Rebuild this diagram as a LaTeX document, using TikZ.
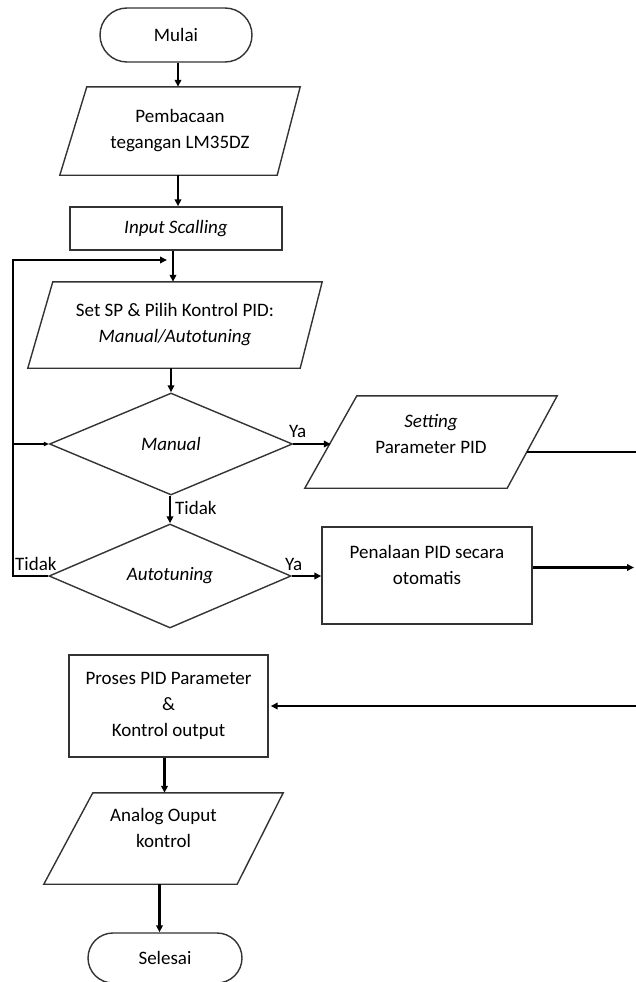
\documentclass[tikz,border=0pt]{standalone}
\usepackage{fontspec}
\setmainfont{Carlito}
\usetikzlibrary{shapes.geometric,shapes.misc,arrows.meta,calc}
\begin{document}
\begin{tikzpicture}[x=1pt,y=-1pt,
  every node/.style={font=\fontsize{19}{26}\selectfont, inner sep=0pt},
  term/.style={rounded rectangle, draw=black!80, line width=1.4pt},
  proc/.style={rectangle, draw=black!80, line width=1.4pt, align=center},
  pbox/.style={rectangle, align=center},
  pgram/.style={draw=black!80, line width=1.4pt},
  dec/.style={diamond, draw=black!80, line width=1.4pt, inner sep=0pt},
  conn/.style={line width=2.2pt, -{Triangle[length=7pt,width=6.5pt]}},
  line/.style={line width=2.2pt},
  lbl/.style={font=\fontsize{19}{22}\selectfont}
]
\useasboundingbox (0,0) rectangle (635,982);

% Mulai
\node[term, minimum width=152pt, minimum height=54pt] (mulai) at (176,35) {Mulai};

% Pembacaan (parallelogram)
\node[pbox, minimum width=240pt, minimum height=88pt] (pb) at (180,131) {Pembacaan\\tegangan LM35DZ};
\draw[pgram] ([xshift=27pt]pb.north west) -- (pb.north east) -- ([xshift=-23pt]pb.south east) -- (pb.south west) -- cycle;

% Input Scalling
\node[proc, minimum width=212pt, minimum height=43pt] (inp) at (176,228.5) {\itshape Input Scalling};

% Set SP
\node[pbox, minimum width=294pt, minimum height=86pt] (setsp) at (175,325) {Set SP \& Pilih Kontrol PID:\\\itshape Manual/Autotuning};
\draw[pgram] ([xshift=25pt]setsp.north west) -- (setsp.north east) -- ([xshift=-22pt]setsp.south east) -- (setsp.south west) -- cycle;

% Manual decision
\node[dec, minimum width=243pt, minimum height=102pt] (man) at (171,444) {\itshape Manual};

% Autotuning decision
\node[dec, minimum width=242pt, minimum height=104pt] (aut) at (170,576) {\itshape Autotuning};

% Setting Parameter PID
\node[pbox, minimum width=252pt, minimum height=92pt] (setp) at (431,442) {};
\node[pbox] (setptext) at (431,434) {\itshape Setting\\Parameter PID};
\draw[pgram] ([xshift=52pt]setp.north west) -- (setp.north east) -- ([xshift=-50pt]setp.south east) -- (setp.south west) -- cycle;

% Penalaan
\node[proc, minimum width=210pt, minimum height=97pt] (pen) at (427,575.5) {};
\node[pbox] (pentext) at (427,565) {Penalaan PID secara\\otomatis};

% Proses
\node[proc, minimum width=199pt, minimum height=102pt] (pro) at (168.5,706) {Proses PID Parameter\\\&\\Kontrol output};

% Analog
\node[pbox, minimum width=239pt, minimum height=91pt] (ana) at (163.5,838.5) {};
\node[pbox] (anatext) at (163.5,828) {Analog Ouput\\kontrol};
\draw[pgram] ([xshift=49pt]ana.north west) -- (ana.north east) -- ([xshift=-46pt]ana.south east) -- (ana.south west) -- cycle;

% Selesai
\node[term, minimum width=154pt, minimum height=50pt] (sel) at (165,958) {Selesai};

% main connectors
\draw[conn] ([xshift=2pt]mulai.south) -- ([xshift=2pt]mulai.south |- pb.north);
\draw[conn] ([xshift=-2pt]pb.south) -- ([xshift=-2pt]pb.south |- inp.north);
\draw[conn] ([xshift=-3pt]inp.south) -- ([xshift=-3pt]inp.south |- setsp.north);
\draw[conn] ([xshift=-4pt]setsp.south) -- ([xshift=-4pt]setsp.south |- man.north);
\draw[conn] ([xshift=-1pt]man.south) -- (aut.north);
\node[lbl, anchor=west] (tidak1) at (175,508) {Tidak};

% Ya branches
\coordinate (setpL) at ([xshift=26pt,yshift=2pt]setp.west);
\draw[conn] (man.east) -- (man.east -| setpL);
\node[lbl, anchor=south west] (ya1) at (289,438) {Ya};
\draw[conn] (aut.east) -- (aut.east -| pen.west);
\node[lbl, anchor=south west] (ya2) at (285,571) {Ya};

% right side connectors
\coordinate (setpR) at ([xshift=-30pt,yshift=-10pt]setp.east);
\coordinate (rgt1) at (636,452);
\draw[line] (setpR) -- (setpR -| rgt1);
\coordinate (penR) at ([yshift=8pt]pen.east);
\coordinate (rgt2) at (634,567);
\draw[conn] (penR) -- (penR -| rgt2);
\coordinate (rgt3) at (636,706);
\draw[conn] (rgt3) -- ([xshift=2pt]pro.east);

% loop back on the left
\coordinate (loopx) at (13,0);
\coordinate (looptop) at (167,260);
\draw[conn] (aut.west) -- (aut.west -| loopx) -- (loopx |- looptop) -- (looptop);
\draw[line width=1.4pt, -{Triangle[length=5pt,width=4.5pt]}] (loopx |- man.west) -- (man.west);
\node[lbl, anchor=south west] (tidak2) at (15,571) {Tidak};

% lower connectors
\draw[conn] ([xshift=-4pt]pro.south) -- ([xshift=-4pt]pro.south |- ana.north);
\draw[conn] ([xshift=-4pt]ana.south) -- ([xshift=-4pt]ana.south |- sel.north);
\end{tikzpicture}
\end{document}
